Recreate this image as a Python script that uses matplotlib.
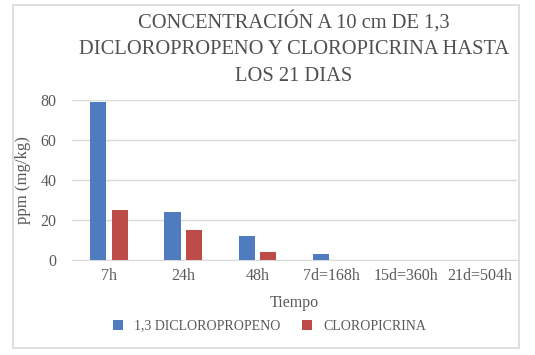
import numpy as np
import matplotlib
matplotlib.use("Agg")
import matplotlib.pyplot as plt
from matplotlib.patches import Rectangle

plt.rcParams['font.family'] = ['Liberation Serif', 'DejaVu Serif']

categories = ["7h", "24h", "48h", "7d=168h", "15d=360h", "21d=504h"]
dicloropropeno = [79, 24, 12, 3, 0, 0]
cloropicrina = [25, 15, 4, 0, 0, 0]

BLUE = '#4f7bbf'
RED = '#bd4b48'
TXT = '#595959'
GRID = '#d9d9d9'

fig = plt.figure(figsize=(5.35, 3.55), dpi=100)
W, H = 535, 355
ax = fig.add_axes([72 / W, 1 - 260 / H, (517 - 72) / W, 160 / H])

x = np.arange(len(categories))
width = 0.22
gap = 0.07
ax.bar(x - (width + gap) / 2, dicloropropeno, width, color=BLUE, label='1,3 DICLOROPROPENO', zorder=3)
ax.bar(x + (width + gap) / 2, cloropicrina, width, color=RED, label='CLOROPICRINA', zorder=3)

ax.set_xlim(-0.5, len(categories) - 0.5)
ax.set_ylim(0, 80)
ax.set_yticks([0, 20, 40, 60, 80])
ax.set_xticks(x)
ax.set_xticklabels(categories)
ax.grid(axis='y', color=GRID, linewidth=1, zorder=0)
for s in ['top', 'right', 'left']:
    ax.spines[s].set_visible(False)
ax.spines['bottom'].set_color(GRID)
ax.tick_params(axis='both', length=0, labelsize=11.5, colors=TXT, pad=6)
ax.tick_params(axis='y', pad=11)

ax.set_xlabel('Tiempo', fontsize=11.5, color=TXT, labelpad=8)
ax.set_ylabel('ppm (mg/kg)', fontsize=12, color=TXT, labelpad=7)

fig.text(294 / W, 1 - 48 / H,
         'CONCENTRACIÓN A 10 cm DE 1,3\nDICLOROPROPENO Y CLOROPICRINA HASTA\nLOS 21 DIAS',
         ha='center', va='center', fontsize=14.8, color='#505050', linespacing=1.55)

ax.legend(loc='center', bbox_to_anchor=(0.5 - 25 / 445, (260 - 326) / 160), ncol=2,
          frameon=False, fontsize=10, labelcolor=TXT, handlelength=0.7, handleheight=0.7,
          columnspacing=1.6, handletextpad=0.8)

fig.patches.append(Rectangle((12.5 / W, 1 - 347.5 / H), (519 - 12.5) / W, (347.5 - 5) / H,
                             transform=fig.transFigure, fill=False, edgecolor=GRID, linewidth=1.2))

fig.savefig('out.png', dpi=100, facecolor='white')
